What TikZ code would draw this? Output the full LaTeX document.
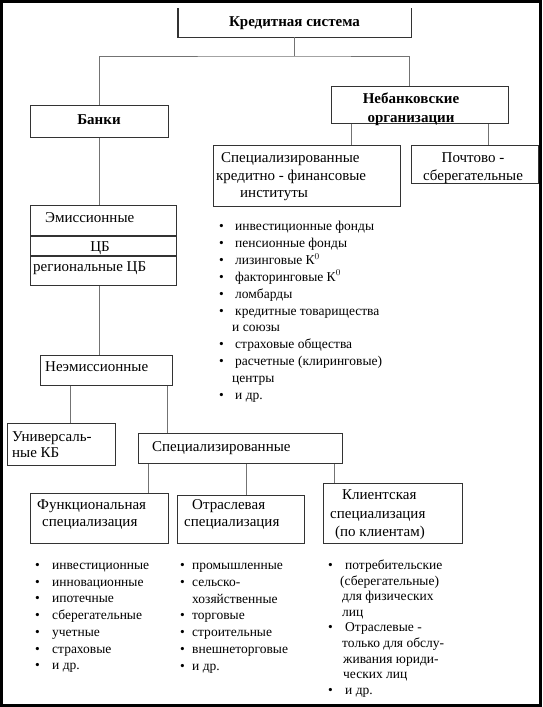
\documentclass[tikz,border=0pt]{standalone}
\usepackage{fontspec}
\setmainfont{Liberation Serif}
\usetikzlibrary{calc}
\newcommand\fsz[2]{\fontsize{#1}{#2}\selectfont}
\newcommand\bl[1]{\makebox[#1pt][l]{\textbullet}}
\tikzset{
  boxline/.style={draw=black!80, line width=1.3pt},
  box/.style={boxline, anchor=north west, inner sep=0pt},
  link/.style={draw=black!55, line width=1pt},
  txt/.style={inner sep=0pt, font=\fsz{15}{17.5}},
  btxt/.style={inner sep=0pt, font=\fsz{15}{19}\bfseries},
  lst/.style={inner sep=0pt, align=left, anchor=base west},
}
\begin{document}
\begin{tikzpicture}[x=1pt,y=-1pt]
\useasboundingbox (0,0) rectangle (542,707);
\fill[white] (0,0) rectangle (542,707);
\draw[line width=3pt] (1.5,1.5) rectangle (540.5,705.5);

% boxes
\node[anchor=north west, inner sep=0pt, minimum width=233pt, minimum height=29pt] (kred) at (178,8) {};
\draw[boxline] (kred.north west) -- (kred.south west) -- (kred.south east) -- (kred.north east);
\node[box, minimum width=138pt, minimum height=32pt] (banki) at (30,105) {};
\node[box, minimum width=177pt, minimum height=37pt] (nebank) at (331,86) {};
\node[box, minimum width=187pt, minimum height=61pt] (specinst) at (213,145) {};
\node[box, minimum width=127pt, minimum height=38pt] (pocht) at (411,145) {};
\node[box, minimum width=146pt, minimum height=80pt] (emis) at (30,205) {};
\draw[boxline] ($(emis.north west)+(0,31)$) -- ($(emis.north east)+(0,31)$);
\draw[boxline] ($(emis.north west)+(0,51)$) -- ($(emis.north east)+(0,51)$);
\node[box, minimum width=132pt, minimum height=30pt] (neemis) at (40,355) {};
\node[box, minimum width=108pt, minimum height=42pt] (univ) at (7,423) {};
\node[box, minimum width=204pt, minimum height=30pt] (specz) at (138,433) {};
\node[box, minimum width=138pt, minimum height=50pt] (func) at (30,493) {};
\node[box, minimum width=127pt, minimum height=48pt] (otr) at (177,495) {};
\node[box, minimum width=139pt, minimum height=60pt] (klient) at (323,483) {};

% box texts (base anchor = baseline of the last line)
\node[btxt, anchor=base] (kred-t) at (294.5,26) {Кредитная система};
\node[btxt, anchor=base] (banki-t) at (99,124.5) {Банки};
\node[btxt, anchor=base, align=center] (nebank-t) at (411,122) {Небанковские\\организации};
\node[txt, anchor=base west, align=left] (specinst-t) at (216,197.5)
  {\hspace*{5pt}Специализированные\\кредитно - финансовые\\\hspace*{24pt}институты};
\node[txt, anchor=base, align=center] (pocht-t) at (473,180) {Почтово -\\сберегательные};
\node[txt, anchor=base west] (emis-a) at (45,222.5) {Эмиссионные};
\node[txt, anchor=base] (emis-b) at (100,251) {ЦБ};
\node[txt, anchor=base west] (emis-c) at (33,271.5) {региональные ЦБ};
\node[txt, anchor=base west] (neemis-t) at (45,371.5) {Неэмиссионные};
\node[txt, anchor=base west, align=left, font=\fsz{15}{16}] (univ-t) at (12,457.5) {Универсаль-\\ные КБ};
\node[txt, anchor=base west] (specz-t) at (152,451.5) {Специализированные};
\node[txt, anchor=base west, align=left, font=\fsz{15}{17}] (func-t) at (37,526.5)
  {Функциональная\\\hspace*{5pt}специализация};
\node[txt, anchor=base west, align=left, font=\fsz{15}{17}] (otr-t) at (184,526.5)
  {\hspace*{8pt}Отраслевая\\специализация};
\node[txt, anchor=base west, align=left, font=\fsz{15}{18.5}] (klient-t) at (330,536.5)
  {\hspace*{12pt}Клиентская\\специализация\\\hspace*{5pt}(по клиентам)};

% lists
\node[lst, font=\fsz{13.5}{16.9}] (list-inst) at (219,399.5) {%
\bl{16}инвестиционные фонды\\
\bl{16}пенсионные фонды\\
\bl{16}лизинговые К$^0$\\
\bl{16}факторинговые К$^0$\\
\bl{16}ломбарды\\
\bl{16}кредитные товарищества\\
\hspace*{13pt}и союзы\\
\bl{16}страховые общества\\
\bl{16}расчетные (клиринговые)\\
\hspace*{13pt}центры\\
\bl{16}и др.};
\node[lst, font=\fsz{13.5}{16.7}] (list-func) at (35,669.7) {%
\bl{17}инвестиционные\\
\bl{17}инновационные\\
\bl{17}ипотечные\\
\bl{17}сберегательные\\
\bl{17}учетные\\
\bl{17}страховые\\
\bl{17}и др.};
\node[lst, font=\fsz{13.5}{16.8}] (list-otr) at (180,670.3) {%
\bl{12}промышленные\\
\bl{12}сельско-\\
\hspace*{12pt}хозяйственные\\
\bl{12}торговые\\
\bl{12}строительные\\
\bl{12}внешнеторговые\\
\bl{12}и др.};
\node[lst, font=\fsz{13.5}{15.6}] (list-kl) at (328,694.3) {%
\bl{17}потребительские\\
\hspace*{12pt}(сберегательные)\\
\hspace*{14pt}для физических\\
\hspace*{14pt}лиц\\
\bl{17}Отраслевые -\\
\hspace*{14pt}только для обслу-\\
\hspace*{15pt}живания юриди-\\
\hspace*{15pt}ческих лиц\\
\bl{17}и др.};

% connector coordinates
\coordinate (hl) at (294,56);
\coordinate (nbin) at (409,86);
\coordinate (xa) at (351,0);
\coordinate (xb) at (488,0);
\coordinate (xu) at (70,0);
\coordinate (xs) at (167,0);
\coordinate (xf) at (148,0);
\coordinate (xo) at (246,0);
\coordinate (xk) at (334,0);

% connectors
\draw[link] (kred.south -| hl) -- (hl);
\draw[link] (banki.north) |- (hl) -| (nbin);
\draw[link] (nebank.south -| xa) -- (specinst.north -| xa);
\draw[link] (nebank.south -| xb) -- (pocht.north -| xb);
\draw[link] (banki.south) -- (banki.south |- emis.north);
\draw[link] (banki.south |- emis.south) -- (banki.south |- neemis.north);
\draw[link] (neemis.south -| xu) -- (univ.north -| xu);
\draw[link] (neemis.south -| xs) -- (specz.north -| xs);
\draw[link] (specz.south -| xf) -- (func.north -| xf);
\draw[link] (specz.south -| xo) -- (otr.north -| xo);
\draw[link] (specz.south -| xk) -- (klient.north -| xk);
\end{tikzpicture}
\end{document}
